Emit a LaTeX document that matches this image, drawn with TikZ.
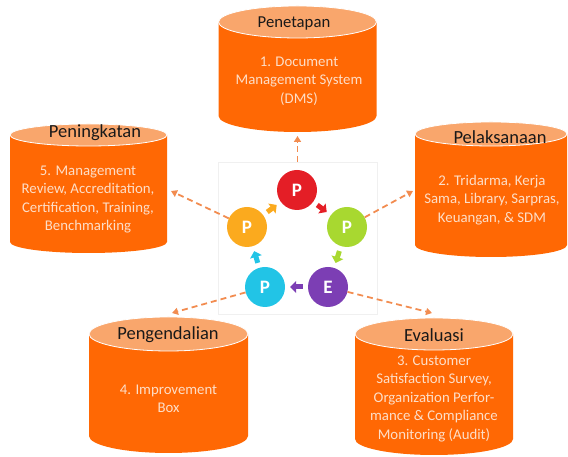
\documentclass[tikz,border=0pt]{standalone}
\usepackage{fontspec}
\setmainfont{Carlito}
\usetikzlibrary{arrows.meta}
\definecolor{drumorange}{RGB}{255,104,4}
\definecolor{lidorange}{RGB}{249,166,108}
\definecolor{infotext}{RGB}{253,222,200}
\definecolor{linkorange}{RGB}{242,140,80}
\definecolor{pred}{RGB}{228,30,38}
\definecolor{pgreen}{RGB}{168,216,48}
\definecolor{ppurple}{RGB}{124,62,180}
\definecolor{pcyan}{RGB}{34,196,230}
\definecolor{porange}{RGB}{251,170,30}
\begin{document}
\begin{tikzpicture}[x=1pt,y=1pt,
    lid/.style={fill=lidorange,draw=white,line width=0.8pt},
    title/.style={font=\fontsize{18.5}{20}\selectfont,text=black!90},
    info/.style={font=\fontsize{14.8}{18.5}\selectfont,text=infotext,align=center},
    ring/.style={circle,minimum size=40pt,inner sep=0pt,text=white,font=\fontsize{19}{20}\selectfont\bfseries},
    link/.style={draw=linkorange,line width=1.8pt,dash pattern=on 6pt off 4pt,-{Triangle[length=6pt,width=7pt]}},
    turn/.style={line width=5pt,-{Triangle[length=6pt,width=12pt]},shorten <=5pt,shorten >=5pt}]
      \useasboundingbox (0,0) rectangle (568,457);
      % frame behind the cycle
      \node[draw=black!6,line width=0.6pt,minimum width=159pt,minimum height=152pt,inner sep=0pt] (frame) at (297.5,219) {};
      % Penetapan
      \fill[drumorange] (218.5,435) -- (218.5,341) arc[start angle=180,end angle=360,x radius=79,y radius=16] -- (376.5,435) -- cycle;
      \draw[lid] (297.5,435) ellipse [x radius=79,y radius=16];
      \node[title,font=\fontsize{16.7}{18}\selectfont] (pentitle) at (294,434) {Penetapan};
      \node[info] (pen) at (299,376) {1. Document\\Management System\\(DMS)};
      % Peningkatan
      \fill[drumorange] (10,322) -- (10,215) arc[start angle=180,end angle=360,x radius=78.5,y radius=11] -- (167,322) -- cycle;
      \draw[lid] (88.5,322) ellipse [x radius=78.5,y radius=11];
      \node[title] (pngtitle) at (95,324) {Peningkatan};
      \node[info] (png) at (88,257.5) {5. Management\\Review, Accreditation,\\Certification, Training,\\Benchmarking};
      % Pelaksanaan
      \fill[drumorange] (415,323) -- (415,212) arc[start angle=180,end angle=360,x radius=76,y radius=12] -- (567,323) -- cycle;
      \draw[lid] (491,323) ellipse [x radius=76,y radius=12];
      \node[title] (peltitle) at (500,320) {Pelaksanaan};
      \node[info] (pel) at (492,257) {2. Tridarma, Kerja\\Sama, Library, Sarpras,\\Keuangan, \& SDM};
      % Pengendalian
      \fill[drumorange] (89,123) -- (89,21) arc[start angle=180,end angle=360,x radius=79.5,y radius=17] -- (248,123) -- cycle;
      \draw[lid] (168.5,123) ellipse [x radius=79.5,y radius=17];
      \node[title] (pdltitle) at (168,122) {Pengendalian};
      \node[info] (pdl) at (168.5,58) {4. Improvement\\Box};
      % Evaluasi
      \fill[drumorange] (355,123) -- (355,18) arc[start angle=180,end angle=360,x radius=79,y radius=16] -- (513,123) -- cycle;
      \draw[lid] (434,123) ellipse [x radius=79,y radius=16];
      \node[title] (evatitle) at (434,122) {Evaluasi};
      \node[info] (eva) at (434,58.5) {3. Customer\\Satisfaction Survey,\\Organization Perfor-\\mance \& Compliance\\Monitoring (Audit)};
      % cycle
      \node[ring,fill=pred] (p1) at (297,267) {P};
      \node[ring,fill=pgreen] (p2) at (347,230) {P};
      \node[ring,fill=ppurple] (p3) at (328,170) {E};
      \node[ring,fill=pcyan] (p4) at (265,170) {P};
      \node[ring,fill=porange] (p5) at (247,230) {P};
      \draw[turn,pred] (p1) -- (p2);
      \draw[turn,pgreen] (p2) -- (p3);
      \draw[turn,ppurple] (p3) -- (p4);
      \draw[turn,pcyan] (p4) -- (p5);
      \draw[turn,porange] (p5) -- (p1);
      % links to the drums
      \coordinate (pen-in) at (297.5,321);
      \coordinate (pel-in) at (413,266);
      \coordinate (png-in) at (171,266);
      \coordinate (pdl-in) at (172,144);
      \coordinate (eva-in) at (432,144);
      \draw[link] (frame.north) -- (pen-in);
      \draw[link] (p2) -- (pel-in);
      \draw[link] (p5) -- (png-in);
      \draw[link] (p4) -- (pdl-in);
      \draw[link] (p3) -- (eva-in);
\end{tikzpicture}
\end{document}
